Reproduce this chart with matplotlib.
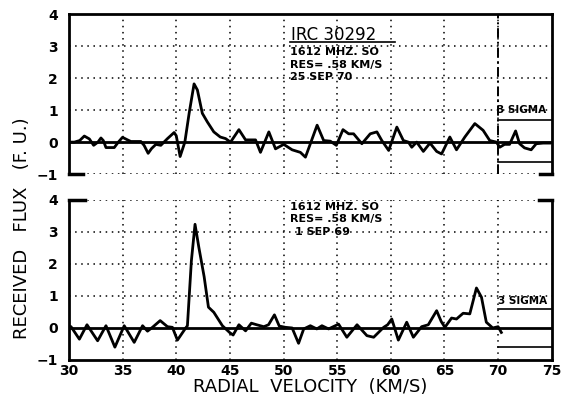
import matplotlib
matplotlib.use("Agg")
import matplotlib.pyplot as plt

# ── data ───────────────────────────────────────────────────────
V_TOP = [30.0, 30.5, 31.0, 31.43, 31.9, 32.3, 32.7, 32.98, 33.2, 33.45, 34.22, 34.6,
         34.99, 35.4, 35.77, 36.7, 37.0, 37.38, 37.7, 38.1, 38.56, 39.18, 39.8, 40.0,
         40.36, 40.8, 41.2, 41.66, 41.97, 42.43, 42.9, 43.5, 44.1, 44.6, 45.06, 45.84,
         46.46, 47.39, 47.85, 48.63, 49.25, 50.02, 50.8, 51.57, 52.04, 52.5, 53.13,
         53.74, 54.36, 54.92, 55.54, 56.07, 56.53, 57.3, 58.08, 58.7, 59.16, 59.8,
         60.56, 61.17, 61.64, 61.95, 62.41, 63.03, 63.65, 64.27, 64.73, 65.5, 66.12,
         66.9, 67.83, 68.6, 69.22, 69.84, 70.15, 70.6, 71.07, 71.63, 72.0, 72.46,
         73.08, 73.55, 74.2, 74.8]
F_TOP = [0.0, 0.0, 0.05, 0.19, 0.1, -0.1, 0.0, 0.13, 0.05, -0.17, -0.17, 0.0,
         0.15, 0.08, 0.02, 0.02, -0.1, -0.35, -0.2, -0.07, -0.1, 0.11, 0.3, 0.2,
         -0.45, 0.0, 0.9, 1.82, 1.63, 0.9, 0.63, 0.32, 0.16, 0.11, 0.0, 0.39,
         0.07, 0.07, -0.32, 0.32, -0.21, -0.07, -0.24, -0.32, -0.47, -0.05, 0.53,
         0.05, 0.03, -0.1, 0.39, 0.26, 0.26, -0.05, 0.26, 0.32, 0.05, -0.26,
         0.47, 0.05, 0.0, -0.16, 0.0, -0.29, -0.03, -0.29, -0.37, 0.16, -0.24,
         0.16, 0.58, 0.37, 0.05, 0.0, -0.16, -0.07, -0.07, 0.35, -0.05, -0.18,
         -0.24, -0.05, -0.03, -0.03]

V_BOT = [30.0, 30.19, 30.97, 31.68, 32.67, 33.45, 34.28, 35.15, 36.08, 36.86, 37.32,
         37.78, 38.5, 39.18, 39.64, 40.11, 40.88, 41.04, 41.41, 41.75, 42.1, 42.6,
         43.0, 43.5, 44.3, 45.0, 45.3, 45.84, 46.46, 47.0, 47.5, 48.16, 48.6, 49.15,
         49.6, 50.18, 50.8, 51.4, 51.88, 52.5, 53.1, 53.58, 54.2, 55.13, 55.9, 56.85,
         57.77, 58.4, 59.33, 59.7, 60.09, 60.7, 61.48, 62.1, 62.87, 63.49, 64.27,
         64.7, 65.04, 65.66, 66.12, 66.74, 67.36, 67.98, 68.45, 68.9, 69.5, 70.0, 70.3]
F_BOT = [0.05, 0.04, -0.35, 0.1, -0.4, 0.07, -0.6, 0.07, -0.45, 0.07, -0.1,
         0.02, 0.23, 0.04, 0.02, -0.38, 0.0, 0.07, 2.1, 3.24, 2.53, 1.6,
         0.65, 0.49, 0.07, -0.15, -0.22, 0.1, -0.09, 0.15, 0.1, 0.04, 0.1, 0.41,
         0.06, 0.02, 0.0, -0.48, -0.03, 0.07, -0.03, 0.07, -0.03, 0.12, -0.29, 0.1,
         -0.24, -0.29, 0.02, 0.1, 0.28, -0.38, 0.18, -0.29, 0.04, 0.1, 0.54,
         0.2, 0.02, 0.31, 0.28, 0.46, 0.44, 1.25, 0.96, 0.18, 0.0, 0.04, -0.14]

SIGMA_TOP = (0.69, -0.62)
SIGMA_BOT = (0.59, -0.61)

X_TICKS = [30, 35, 40, 45, 50, 55, 60, 65, 70, 75]
Y_TICKS = [-1, 0, 1, 2, 3, 4]

TOP_NOTES = ["1612 MHZ. SO", "RES= .58 KM/S", "25 SEP 70"]
BOT_NOTES = ["1612 MHZ. SO", "RES= .58 KM/S", "1 SEP 69"]

GRID_STYLE = dict(color="black", lw=1.1, ls=(0, (1, 3)), zorder=1)


def setup_panel(ax, show_x):
    ax.set_xlim(30, 75)
    ax.set_ylim(-1, 4)
    ax.set_xticks(X_TICKS)
    ax.set_yticks(Y_TICKS)
    ax.tick_params(length=0, labelsize=10, pad=8)
    for lab in ax.get_yticklabels() + ax.get_xticklabels():
        lab.set_fontweight("bold")
    if not show_x:
        ax.set_xticklabels([])
    else:
        ax.tick_params(axis="x", pad=3)
    for v in X_TICKS[1:-1]:
        ax.axvline(v, **GRID_STYLE)
    for y in [1, 2, 3]:
        ax.axhline(y, **GRID_STYLE)
    ax.axhline(0, color="black", lw=2, zorder=3)
    for s in ax.spines.values():
        s.set_linewidth(2)


fig = plt.figure(figsize=(5.7, 4.04), dpi=100)
ax1 = fig.add_axes([0.121, 0.569, 0.847, 0.396])
ax2 = fig.add_axes([0.121, 0.109, 0.847, 0.396])

# ── top panel ─────────────────────────────────────────────────
setup_panel(ax1, False)
ax1.spines["bottom"].set_visible(False)
ax1.plot([30, 75], [-1, -1], **GRID_STYLE)
ax1.plot([30, 31.3], [-1, -1], color="black", lw=2.5, clip_on=False)
ax1.plot([73.9, 75], [-1, -1], color="black", lw=2.5, clip_on=False)
ax1.axvline(70, color="black", lw=1.4, ls=(0, (5, 2, 1, 2)), zorder=2)
ax1.plot(V_TOP, F_TOP, color="black", lw=2, zorder=4, solid_joinstyle="round")
for y in SIGMA_TOP:
    ax1.plot([70, 75], [y, y], color="black", lw=1.2)
ax1.text(69.9, 0.9, "3 SIGMA", fontsize=7.5, fontweight="bold")
ax1.text(50.7, 3.2, "IRC 30292", fontsize=12)
ax1.plot([50.6, 60.4], [3.13, 3.13], color="black", lw=1.2)
for i, note in enumerate(TOP_NOTES):
    ax1.text(50.6, 2.73 - 0.4 * i, note, fontsize=8, fontweight="bold")

# ── bottom panel ──────────────────────────────────────────────
setup_panel(ax2, True)
ax2.spines["top"].set_visible(False)
ax2.plot([30, 75], [4, 4], **GRID_STYLE)
ax2.plot([30, 31.5], [4, 4], color="black", lw=2.5, clip_on=False)
ax2.plot([73.8, 75], [4, 4], color="black", lw=2.5, clip_on=False)
ax2.plot(V_BOT, F_BOT, color="black", lw=2, zorder=4, solid_joinstyle="round")
for y in SIGMA_BOT:
    ax2.plot([70, 75], [y, y], color="black", lw=1.2)
ax2.text(70.0, 0.75, "3 SIGMA", fontsize=7.5, fontweight="bold")
for i, note in enumerate(BOT_NOTES):
    ax2.text(50.6 if i < 2 else 51.1, 3.7 - 0.4 * i, note, fontsize=8, fontweight="bold")

ax2.set_xlabel("RADIAL  VELOCITY  (KM/S)", fontsize=13, labelpad=0)
fig.text(0.038, 0.435, "RECEIVED   FLUX   (F. U.)", rotation=90, fontsize=13,
         ha="center", va="center")

fig.savefig("out.png", dpi=100)
